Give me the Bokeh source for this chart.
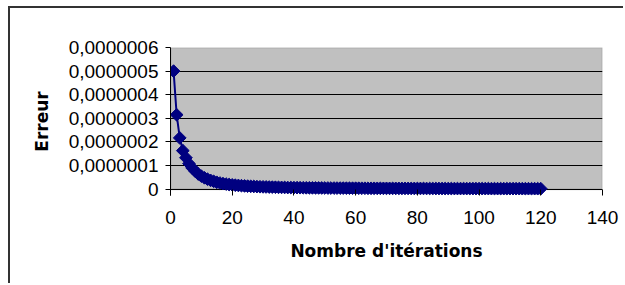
from bokeh.plotting import figure
from bokeh.models import FixedTicker, CustomJSTickFormatter, ColumnDataSource, Range1d, BoxAnnotation
from bokeh.embed import file_html
from bokeh.resources import INLINE

# Data (error, in units of 1e-7)
iterations = list(range(1, 121))
err_e7 = [
    5.0, 3.15, 2.17, 1.63, 1.33, 1.08, 0.9, 0.76, 0.64, 0.55,
    0.48, 0.42, 0.37, 0.33, 0.29, 0.26, 0.235, 0.215, 0.195, 0.18,
    0.165, 0.155, 0.145, 0.135, 0.127, 0.12, 0.113, 0.107, 0.101, 0.096,
    0.092, 0.088, 0.084, 0.08, 0.077, 0.074, 0.071, 0.068, 0.066, 0.064,
    0.062, 0.06, 0.058, 0.056, 0.055, 0.053, 0.052, 0.05, 0.049, 0.048,
    0.047, 0.046, 0.045, 0.044, 0.043, 0.042, 0.041, 0.04, 0.04, 0.039,
    0.038, 0.037, 0.037, 0.036, 0.035, 0.035, 0.034, 0.034, 0.033, 0.033,
    0.032, 0.032, 0.031, 0.031, 0.03, 0.03, 0.03, 0.029, 0.029, 0.028,
    0.028, 0.028, 0.027, 0.027, 0.027, 0.026, 0.026, 0.026, 0.025, 0.025,
    0.025, 0.024, 0.024, 0.024, 0.024, 0.023, 0.023, 0.023, 0.023, 0.022,
    0.022, 0.022, 0.022, 0.021, 0.021, 0.021, 0.021, 0.021, 0.02, 0.02,
    0.02, 0.02, 0.02, 0.019, 0.019, 0.019, 0.019, 0.019, 0.018, 0.018,
]
errors = [v * 1e-7 for v in err_e7]

x_ticks = [0, 20, 40, 60, 80, 100, 120, 140]
y_ticks = [0.0, 1e-7, 2e-7, 3e-7, 4e-7, 5e-7, 6e-7]
y_tick_labels = ["0", "0,0000001", "0,0000002", "0,0000003", "0,0000004", "0,0000005", "0,0000006"]
x_min, x_max = 0, 140
y_min, y_max = 0.0, 6e-7

FONT = "Liberation Sans"
BOLD_FONT = "DejaVu Sans"
NAVY = "#000080"

# small room below zero so the markers sitting on the axis are not clipped
p = figure(width=615, height=277, output_backend="svg", toolbar_location=None,
           x_range=Range1d(x_min, x_max), y_range=Range1d(-0.27e-7, y_max),
           min_border_left=160, min_border_right=23, min_border_top=39, min_border_bottom=90)
p.styles = {"margin-left": "8px", "margin-top": "6px",
            "border-left": "2px solid #333333", "border-top": "2px solid #333333"}

p.background_fill_color = "white"
p.border_fill_color = "white"
p.outline_line_color = None

plot_area = BoxAnnotation(left=x_min, right=x_max, bottom=y_min, top=y_max,
                          fill_color="#C0C0C0", fill_alpha=1.0,
                          line_color="#808080", line_width=2, level="image")
p.add_layout(plot_area)

p.xgrid.grid_line_color = None
p.ygrid.grid_line_color = "black"
p.ygrid.grid_line_width = 1
p.ygrid.ticker = FixedTicker(ticks=y_ticks)

src = ColumnDataSource(dict(x=iterations, y=errors))
p.line("x", "y", source=src, line_color=NAVY, line_width=2)
p.scatter("x", "y", source=src, marker="square", angle=0.785398, size=9,
          fill_color=NAVY, line_color=NAVY)

for ax in (p.xaxis[0], p.yaxis[0]):
    ax.axis_line_color = "black"
    ax.axis_line_width = 1
    ax.major_tick_line_color = "black"
    ax.minor_tick_line_color = None
    ax.major_label_text_font = FONT
    ax.major_label_text_font_size = "19px"
    ax.major_label_text_color = "black"
    ax.axis_label_text_font = BOLD_FONT
    ax.axis_label_text_font_size = "17px"
    ax.axis_label_text_font_style = "bold"
    ax.axis_label_text_color = "black"

p.xaxis.ticker = FixedTicker(ticks=x_ticks)
p.xaxis.axis_line_color = None
p.xaxis.major_tick_in = 6
p.xaxis.major_tick_out = 0
p.xaxis.axis_label = "Nombre d'itérations"
p.xaxis.major_label_standoff = 15
p.xaxis.axis_label_standoff = 14

p.yaxis.ticker = FixedTicker(ticks=y_ticks)
p.yaxis.major_tick_in = 0
p.yaxis.major_tick_out = 5
p.yaxis.formatter = CustomJSTickFormatter(args=dict(tvals=y_ticks, tlabels=y_tick_labels), code="""
    let best = -1, bd = Infinity;
    for (let i = 0; i < tvals.length; i++) {
        const d = Math.abs(tvals[i] - tick);
        if (d < bd) { bd = d; best = i; }
    }
    return (best >= 0 && bd < 1e-12) ? tlabels[best] : "";
""")
p.yaxis.axis_label = "Erreur"
p.yaxis.major_label_standoff = 7
p.yaxis.axis_label_standoff = 14

open("out.html", "w").write(file_html(p, INLINE))
